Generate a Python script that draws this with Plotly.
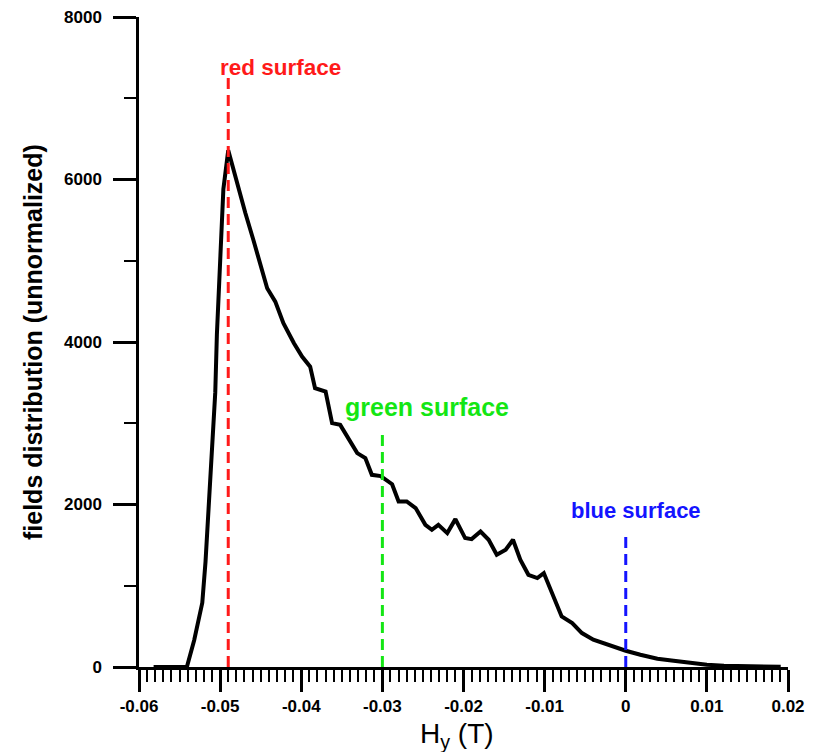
import plotly.graph_objects as go

# Field values (T) and unnormalized distribution counts
hy_values = [-0.0582, -0.0541, -0.0532, -0.0522, -0.0518, -0.0514, -0.0509, -0.0506,
             -0.0504, -0.0501, -0.0498, -0.0496, -0.0490, -0.0480, -0.0469, -0.0459,
             -0.0450, -0.0442, -0.0432, -0.0422, -0.0409, -0.0399, -0.0389, -0.0383,
             -0.0370, -0.0362, -0.0352, -0.0340, -0.0331, -0.0321, -0.0313, -0.0302,
             -0.0288, -0.0280, -0.0270, -0.0259, -0.0247, -0.0239, -0.0231, -0.0220,
             -0.0210, -0.0198, -0.0190, -0.0179, -0.0169, -0.0159, -0.0148, -0.0139,
             -0.0130, -0.0120, -0.0109, -0.0101, -0.0089, -0.0079, -0.0066, -0.0054,
             -0.0040, -0.0023, 0.0, 0.0018, 0.0039, 0.0059, 0.0080, 0.0100,
             0.0121, 0.0150, 0.0191]
counts = [0, 0, 330, 790, 1295, 2000, 2750, 3380,
          4090, 4840, 5430, 5880, 6360, 5970, 5590, 5255,
          4924, 4662, 4497, 4231, 3985, 3820, 3697, 3432,
          3390, 3001, 2980, 2775, 2632, 2571, 2365, 2350,
          2250, 2037, 2037, 1956, 1750, 1689, 1750, 1648,
          1820, 1587, 1574, 1668, 1566, 1381, 1443, 1566,
          1320, 1135, 1095, 1156, 850, 622, 541, 418,
          336, 274, 200, 151, 102, 77, 49, 28,
          16, 7, 3]

# Surface markers
surface_names = ["red surface", "green surface", "blue surface"]
surface_hy = [-0.049, -0.030, 0.0]
surface_top = [7250, 2920, 1630]
surface_colors = ["#ff1a1a", "#14e614", "#1414ff"]
label_x = [-0.0503, -0.0348, -0.00695]
label_y = [7374, 3202, 1923]
label_sizes = [22.5, 25, 22]

# Tick labels
x_tickvals = [-0.06, -0.05, -0.04, -0.03, -0.02, -0.01, 0.0, 0.01, 0.02]
x_ticktext = ["-0.06", "-0.05", "-0.04", "-0.03", "-0.02", "-0.01", "0", "0.01", "0.02"]
y_tickvals = [0, 2000, 4000, 6000, 8000]
y_ticktext = ["0", "2000", "4000", "6000", "8000"]

FONT = "Liberation Sans, Arial, Helvetica, sans-serif"

# page has an 8px body margin: figure is offset by (8, 8)
W, H = 798, 744
PL, PR, PT, PB = 131, 780, 9, 659  # plot area in figure pixels

fig = go.Figure()
fig.add_trace(go.Scatter(x=hy_values, y=counts, mode="lines",
                         line=dict(color="black", width=4), hoverinfo="skip"))

for name, xv, top, col in zip(surface_names, surface_hy, surface_top, surface_colors):
    fig.add_trace(go.Scatter(x=[xv, xv], y=[0, top], mode="lines",
                             line=dict(color=col, width=3, dash="11px,6px"),
                             hoverinfo="skip", cliponaxis=False))

annotations = []
for name, lx, ly, col, sz in zip(surface_names, label_x, label_y, surface_colors, label_sizes):
    annotations.append(dict(x=lx, y=ly, xref="x", yref="y", text=name, showarrow=False,
                            xanchor="left", yanchor="middle",
                            font=dict(family=FONT, size=sz, color=col, weight="bold")))

pw, ph = PR - PL, PB - PT
annotations.append(dict(x=(25 - PL) / pw, y=0.5, xref="paper", yref="paper",
                        text="fields distribution (unnormalized)", textangle=-90,
                        showarrow=False, xanchor="center", yanchor="middle",
                        font=dict(family=FONT, size=25, color="black", weight="bold")))
annotations.append(dict(x=(449 - PL) / pw, y=-(727 - PB) / ph, xref="paper", yref="paper",
                        text="H<sub>y</sub> (T)", showarrow=False,
                        xanchor="center", yanchor="middle",
                        font=dict(family=FONT, size=28, color="black")))

fig.update_layout(
    width=W, height=H,
    margin=dict(l=PL, r=W - PR, t=PT, b=H - PB, autoexpand=False),
    plot_bgcolor="white", paper_bgcolor="white",
    showlegend=False,
    annotations=annotations,
    xaxis=dict(range=[-0.06, 0.02], showgrid=False, zeroline=False, automargin=False,
               showline=True, linecolor="black", linewidth=2.5,
               ticks="outside", ticklen=22, tickwidth=2.5, tickcolor="black",
               tickvals=x_tickvals, ticktext=x_ticktext,
               tickfont=dict(family=FONT, size=17, color="black", weight="bold"),
               ticklabelstandoff=0, ticklabeloverflow="allow",
               minor=dict(dtick=0.001, tick0=-0.06, ticks="outside", ticklen=12,
                          tickwidth=2, tickcolor="black", showgrid=False)),
    yaxis=dict(range=[0, 8000], showgrid=False, zeroline=False, automargin=False,
               showline=True, linecolor="black", linewidth=2.5,
               ticks="outside", ticklen=23, tickwidth=2.5, tickcolor="black",
               tickvals=y_tickvals, ticktext=y_ticktext,
               tickfont=dict(family=FONT, size=17, color="black", weight="bold"),
               ticklabelstandoff=8, ticklabeloverflow="allow",
               minor=dict(dtick=1000, tick0=0, ticks="outside", ticklen=12,
                          tickwidth=2, tickcolor="black", showgrid=False)),
)

fig.write_html("out.html")
